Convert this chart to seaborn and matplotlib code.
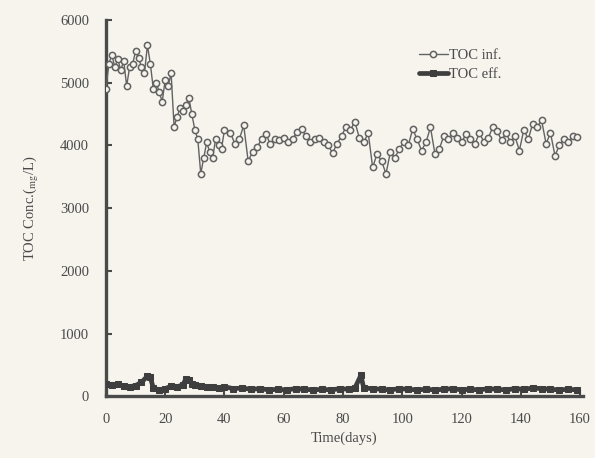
import numpy as np
import pandas as pd
import matplotlib
matplotlib.use("Agg")
import matplotlib.pyplot as plt
import seaborn as sns

# ---- data ----
days_inf = [0, 1, 2, 3, 4, 5, 6, 7, 8, 9,
            10, 11, 12, 13, 14, 15, 16, 17, 18, 19,
            20, 21, 22, 23, 24, 25, 26, 27, 28, 29,
            30, 31, 32, 33, 34, 35, 36, 37, 38, 39,
            40,
            42, 43.5, 45, 46.5, 48, 49.5, 51, 52.5, 54, 55.5,
            57, 58.5, 60, 61.5, 63, 64.5, 66, 67.5, 69, 70.5,
            72, 73.5, 75, 76.5, 78, 79.5, 81, 82.5, 84, 85.5,
            87, 88.5, 90, 91.5, 93, 94.5, 96, 97.5, 99, 100.5,
            102, 103.5, 105, 106.5, 108, 109.5, 111, 112.5, 114, 115.5,
            117, 118.5, 120, 121.5, 123, 124.5, 126, 127.5, 129, 130.5,
            132, 133.5, 135, 136.5, 138, 139.5, 141, 142.5, 144, 145.5,
            147, 148.5, 150, 151.5, 153, 154.5, 156, 157.5, 159]
toc_inf = [4900, 5300, 5450, 5250, 5380, 5200, 5350, 4950, 5250, 5300,
           5500, 5400, 5250, 5150, 5600, 5300, 4900, 5000, 4850, 4700,
           5050, 4950, 5150, 4300, 4450, 4600, 4550, 4650, 4750, 4500,
           4250, 4100, 3550, 3800, 4050, 3900, 3800, 4100, 4000, 3950,
           4250,
           4200, 4030, 4100, 4320, 3750, 3900, 3970, 4100, 4180, 4020,
           4100, 4080, 4120, 4050, 4100, 4220, 4270, 4150, 4050, 4100,
           4120, 4060, 4000, 3880, 4030, 4150, 4300, 4250, 4380, 4120,
           4050, 4200, 3650, 3870, 3750, 3550, 3900, 3800, 3950, 4050,
           4000, 4260, 4100, 3920, 4050, 4290, 3870, 3950, 4150, 4100,
           4200, 4120, 4050, 4180, 4100, 4020, 4200, 4060, 4120, 4290,
           4230, 4080, 4200, 4050, 4150, 3920, 4250, 4100, 4350, 4300,
           4400, 4030, 4200, 3840, 4000, 4100, 4050, 4150, 4130]

days_eff = [0, 2, 4, 6, 8, 10, 12, 14, 15, 16,
            18, 20, 22, 24, 26, 27, 28, 29, 30, 32,
            34, 36, 38, 40, 43, 46, 49, 52, 55, 58,
            61, 64, 67, 70, 73, 76, 79, 82, 84, 86,
            87, 90, 93, 96, 99, 102, 105, 108, 111, 114,
            117, 120, 123, 126, 129, 132, 135, 138, 141, 144,
            147, 150, 153, 156, 159]
toc_eff = [200, 180, 190, 160, 150, 170, 220, 320, 300, 130,
           100, 120, 160, 150, 180, 280, 260, 200, 180, 160,
           150, 140, 130, 150, 120, 130, 110, 120, 100, 110,
           100, 120, 110, 100, 110, 100, 120, 110, 130, 330,
           130, 120, 110, 100, 120, 110, 100, 110, 100, 110,
           120, 100, 110, 100, 120, 110, 100, 120, 110, 130,
           120, 110, 100, 110, 100]

series_labels = ["TOC inf.", "TOC eff."]
x_ticks = [0, 20, 40, 60, 80, 100, 120, 140, 160]
y_ticks = [0, 1000, 2000, 3000, 4000, 5000, 6000]

# ---- style ----
sns.set_theme(style="ticks")
plt.rcParams['font.family'] = ['Liberation Serif', 'DejaVu Serif']
plt.rcParams['mathtext.fontset'] = 'stix'

bg = '#f7f4ee'
ink = '#4a4a4a'

fig = plt.figure(figsize=(5.95, 4.58), dpi=100, facecolor=bg)
ax = fig.add_axes([0.178, 0.135, 0.802, 0.821])
ax.set_facecolor(bg)

df_inf = pd.DataFrame({'day': days_inf, 'toc': toc_inf})
df_eff = pd.DataFrame({'day': days_eff, 'toc': toc_eff})

sns.lineplot(data=df_inf, x='day', y='toc', ax=ax, color='#626262', lw=1.0,
             marker='o', markersize=4.5, markerfacecolor=bg, markeredgecolor='#626262',
             markeredgewidth=1.1, label=series_labels[0], zorder=3)
sns.lineplot(data=df_eff, x='day', y='toc', ax=ax, color='#3e3e3e', lw=3.4,
             marker='s', markersize=5, markerfacecolor='#3e3e3e', markeredgecolor='#3e3e3e',
             label=series_labels[1], zorder=4)

ax.set_xlim(0, 161)
ax.set_ylim(0, 6000)
ax.set_xticks(x_ticks)
ax.set_yticks(y_ticks)
ax.tick_params(axis='y', direction='in', length=4, width=1.5, colors=ink,
               labelsize=10.5, labelcolor=ink, pad=12)
ax.tick_params(axis='x', direction='in', length=4, width=1.5, colors=ink,
               labelsize=10.5, labelcolor=ink, pad=12)
for s in ['top', 'right']:
    ax.spines[s].set_visible(False)
for s in ['left', 'bottom']:
    ax.spines[s].set_linewidth(2.4)
    ax.spines[s].set_color(ink)

ax.set_xlabel('Time(days)', fontsize=10.5, color=ink, labelpad=4)
ax.set_ylabel('TOC Conc.($_{\\rm mg}$/L)', fontsize=10.5, color=ink, labelpad=14)

leg = ax.legend(loc='upper right', bbox_to_anchor=(515 / 595, 1 - 36 / 458),
                bbox_transform=fig.transFigure, frameon=False, fontsize=10.5,
                handlelength=2.0, handletextpad=0.1, labelspacing=0.4)
for t in leg.get_texts():
    t.set_color(ink)

fig.savefig('out.png', dpi=100, facecolor=bg)
